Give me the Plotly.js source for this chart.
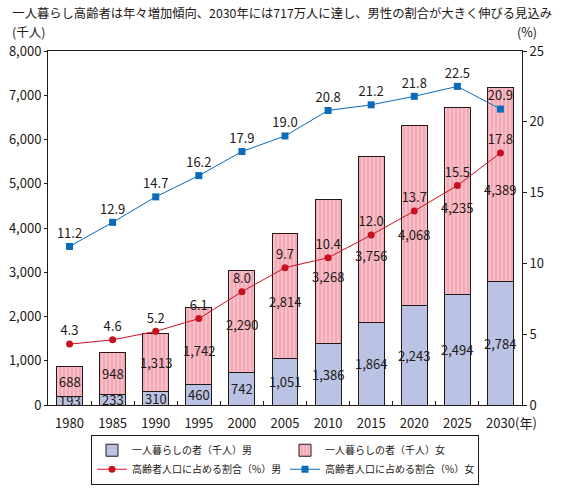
<!DOCTYPE html>
<html>
<head>
<meta charset="utf-8">
<script src="https://cdn.plot.ly/plotly-3.0.1.min.js"></script>
<style>html,body{margin:0;padding:0;background:#fff;}#chart{width:562px;height:490px;}</style>
</head>
<body>
<div id="chart"></div>
<script>
// ---- data ----
const years = ['1980','1985','1990','1995','2000','2005','2010','2015','2020','2025','2030'];
const maleAlone = [193, 233, 310, 460, 742, 1051, 1386, 1864, 2243, 2494, 2784];
const femaleAlone = [688, 948, 1313, 1742, 2290, 2814, 3268, 3756, 4068, 4235, 4389];
const malePct = [4.3, 4.6, 5.2, 6.1, 8.0, 9.7, 10.4, 12.0, 13.7, 15.5, 17.8];
const femalePct = [11.2, 12.9, 14.7, 16.2, 17.9, 19.0, 20.8, 21.2, 21.8, 22.5, 20.9];
const seriesNames = ['一人暮らしの者（千人）男', '一人暮らしの者（千人）女', '高齢者人口に占める割合（%）男', '高齢者人口に占める割合（%）女'];

// label nudges (pixels) for the female bar labels
const femaleLabelShift = [0, 0, 0, -4, -3, -5, -5, -16, -19, -7, -5];

const FONT = '"Noto Sans CJK JP", "Noto Sans", sans-serif';
const INK = '#231815';

const traces = [
  {
    type: 'bar', x: years, y: maleAlone, name: seriesNames[0], width: 0.6,
    marker: {color: '#BAC3E3', line: {color: INK, width: 1}},
    hoverinfo: 'skip'
  },
  {
    type: 'bar', x: years, y: femaleAlone, name: seriesNames[1], width: 0.6,
    marker: {color: '#F4A8B5', line: {color: INK, width: 1},
      pattern: {shape: '|', bgcolor: '#F4A8B5', fgcolor: '#FAD0D7', size: 4, solidity: 0.3}},
    hoverinfo: 'skip'
  },
  {
    type: 'scatter', mode: 'lines+markers+text', x: years, y: malePct, yaxis: 'y2',
    name: seriesNames[2], line: {color: '#D0101E', width: 1},
    marker: {symbol: 'circle', size: 7, color: '#C8101E'},
    texttemplate: '%{y:.1f}', textposition: 'top center',
    textfont: {family: FONT, size: 13, color: INK}, hoverinfo: 'skip'
  },
  {
    type: 'scatter', mode: 'lines+markers+text', x: years, y: femalePct, yaxis: 'y2',
    name: seriesNames[3], line: {color: '#0A6BBA', width: 1},
    marker: {symbol: 'square', size: 7, color: '#0A6BBA'},
    texttemplate: '%{y:.1f}', textposition: 'top center',
    textfont: {family: FONT, size: 13, color: INK}, hoverinfo: 'skip'
  }
];

const annotations = [];
years.forEach((yr, i) => {
  annotations.push({
    x: i, y: maleAlone[i] / 2, xref: 'x', yref: 'y', showarrow: false,
    text: maleAlone[i].toLocaleString('en-US'),
    font: {family: FONT, size: 13, color: INK}
  });
  annotations.push({
    x: i, y: maleAlone[i] + femaleAlone[i] / 2, xref: 'x', yref: 'y', showarrow: false,
    text: femaleAlone[i].toLocaleString('en-US'), yshift: femaleLabelShift[i],
    font: {family: FONT, size: 13, color: INK}
  });
});
annotations.push(
  {xref: 'paper', yref: 'paper', x: -0.081, y: 1.056, xanchor: 'left', yanchor: 'middle',
   text: '(千人)', showarrow: false, font: {family: FONT, size: 12.5, color: INK}},
  {xref: 'paper', yref: 'paper', x: 0.985, y: 1.056, xanchor: 'left', yanchor: 'middle',
   text: '(%)', showarrow: false, font: {family: FONT, size: 12.5, color: INK}},
  {xref: 'paper', yref: 'paper', x: 0.98, y: -0.0395, xanchor: 'left', yanchor: 'middle', yshift: -4,
   text: '(年)', showarrow: false, font: {family: FONT, size: 13, color: INK}}
);

const layout = {
  width: 562, height: 490,
  margin: {l: 48, r: 40, t: 51, b: 85, autoexpand: false},
  paper_bgcolor: '#fff', plot_bgcolor: '#fff',
  font: {family: FONT, size: 13, color: INK},
  title: {text: '一人暮らし高齢者は年々増加傾向、2030年には717万人に達し、男性の割合が大きく伸びる見込み',
    x: 0.022, xanchor: 'left', y: 0.972, yanchor: 'middle', font: {family: FONT, size: 12.3, color: INK}},
  barmode: 'stack',
  showlegend: true,
  legend: {orientation: 'h', x: 0.5, xanchor: 'center', y: -0.084, yanchor: 'top',
    bordercolor: INK, borderwidth: 1, bgcolor: '#fff', tracegroupgap: 0,
    font: {family: FONT, size: 10, color: INK}, entrywidth: 148, traceorder: 'normal', itemclick: false},
  xaxis: {type: 'category', range: [-0.5, 10.5], showline: true, linecolor: INK, linewidth: 1, mirror: true,
    ticks: 'inside', tickson: 'boundaries', ticklen: 4, tickcolor: INK, showgrid: false,
    ticklabelstandoff: 6,
    tickfont: {family: FONT, size: 13, color: INK}, fixedrange: true},
  yaxis: {range: [0, 8000], dtick: 1000, tickformat: ',d', showline: true, linecolor: INK, linewidth: 1,
    ticks: 'outside', ticklen: 3, tickcolor: INK, showgrid: false, zeroline: false,
    tickfont: {family: FONT, size: 13, color: INK}, fixedrange: true},
  yaxis2: {range: [0, 25], dtick: 5, overlaying: 'y', side: 'right', showline: true, linecolor: INK, linewidth: 1,
    ticks: 'outside', ticklen: 4, tickcolor: INK, showgrid: false, zeroline: false,
    tickfont: {family: FONT, size: 13, color: INK}, fixedrange: true},
  annotations: annotations
};

Plotly.newPlot('chart', traces, layout, {staticPlot: true, displayModeBar: false});
</script>
</body>
</html>
